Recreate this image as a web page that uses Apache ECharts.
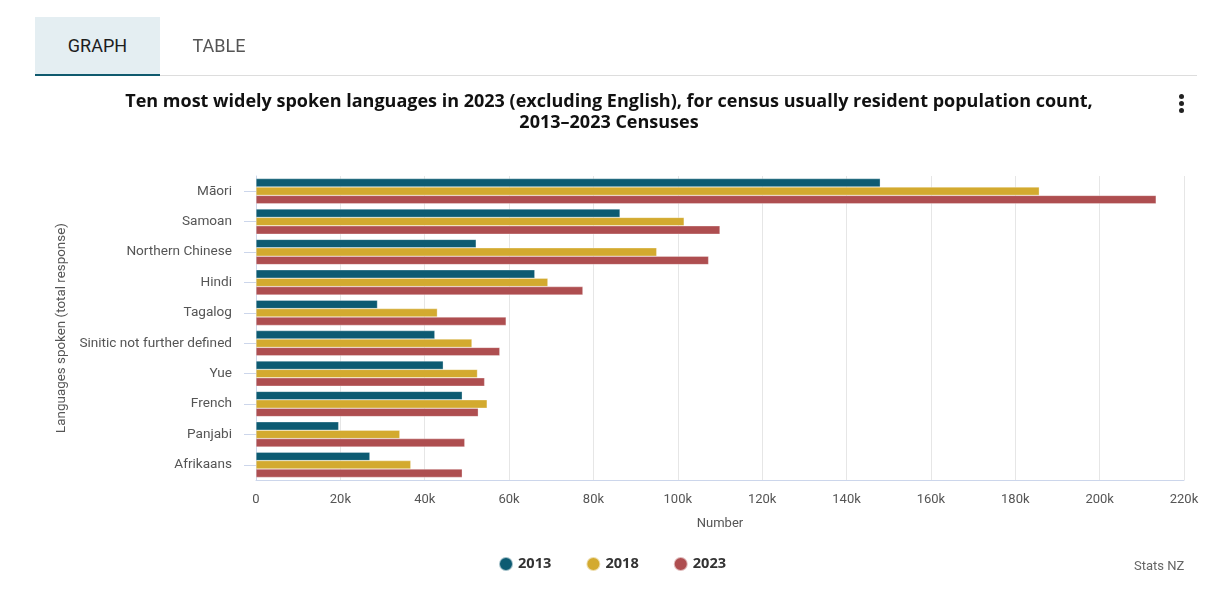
<!DOCTYPE html>
<html>
<head>
<meta charset="utf-8">
<script src="https://cdn.jsdelivr.net/npm/echarts@6/dist/echarts.min.js"></script>
<style>
  html,body{margin:0;padding:0;background:#fff;}
  #wrap{position:relative;width:1212px;height:600px;overflow:hidden;font-family:Roboto, "Open Sans", sans-serif;}
  #chart{position:absolute;left:0;top:0;width:1212px;height:600px;}
  .tab{position:absolute;top:17px;height:57px;line-height:58px;font-size:18px;text-align:center;}
  #tabG{left:35px;width:125px;background:#e4eef2;color:#1d1d1d;border-bottom:2px solid #0f5a6e;}
  #tabT{left:160px;width:118px;color:#555;}
  #rule{position:absolute;left:160px;top:75px;width:1037px;height:1px;background:#dddddd;}
  .dot{position:absolute;left:1179px;width:5px;height:5px;border-radius:50%;background:#222;}
</style>
</head>
<body>
<div id="wrap">
  <div id="chart"></div>
  <div class="tab" id="tabG">GRAPH</div>
  <div class="tab" id="tabT">TABLE</div>
  <div id="rule"></div>
  <div class="dot" style="top:94px"></div>
  <div class="dot" style="top:101px"></div>
  <div class="dot" style="top:108px"></div>
</div>
<script>
const categories = ["Māori","Samoan","Northern Chinese","Hindi","Tagalog","Sinitic not further defined","Yue","French","Panjabi","Afrikaans"];
const years = ["2013","2018","2023"];
const values2013 = [148000, 86300, 52200, 66100, 28800, 42400, 44400, 48900, 19600, 27000];
const values2018 = [185700, 101500, 95000, 69200, 43000, 51200, 52500, 54800, 34100, 36700];
const values2023 = [213400, 110000, 107300, 77500, 59300, 57800, 54200, 52700, 49500, 48900];
const xTicks = [0, 20000, 40000, 60000, 80000, 100000, 120000, 140000, 160000, 180000, 200000, 220000];
const colors = ["#0d5b72", "#d3aa2f", "#ae4e50"];

const chart = echarts.init(document.getElementById('chart'), null, {renderer:'canvas'});
const seriesData = [values2013, values2018, values2023];
chart.setOption({
  animation:false,
  textStyle:{fontFamily:'Roboto, "Open Sans", sans-serif'},
  title:{
    text:'Ten most widely spoken languages in 2023 (excluding English), for census usually resident population count,\n2013–2023 Censuses',
    left:604, top:86, textAlign:'center',
    textStyle:{fontSize:18, fontWeight:'bold', color:'#111', lineHeight:21, fontFamily:'"Open Sans", sans-serif'}
  },
  legend:{
    data:years, left:493, top:551, itemWidth:14, itemHeight:14, icon:'circle', itemGap:34,
    textStyle:{fontSize:14.6, fontWeight:'bold', color:'#333', fontFamily:'"Open Sans", sans-serif'}
  },
  graphic:[{type:'text', left:1134, top:560, style:{text:'Stats NZ', fill:'#666', fontSize:13, fontFamily:'Roboto, sans-serif'}}],
  grid:{left:256, right:28, top:176, bottom:120},
  xAxis:{
    type:'value', min:0, max:220000, interval:20000,
    name:'Number', nameLocation:'middle', nameGap:37,
    nameTextStyle:{fontSize:13, color:'#555'},
    axisLine:{show:true, lineStyle:{color:'#ccd6eb'}},
    axisTick:{show:false},
    axisLabel:{fontSize:13, color:'#555', margin:13, formatter:v => xTicks.includes(v) ? (v===0?'0':(v/1000)+'k') : ''},
    splitLine:{lineStyle:{color:'#e6e6e6'}}
  },
  yAxis:{
    type:'category', data:categories, inverse:true,
    name:'Languages spoken (total response)', nameLocation:'middle', nameGap:186, nameRotate:90,
    nameTextStyle:{fontSize:13.4, color:'#555'},
    axisLine:{show:true, lineStyle:{color:'#ccd6eb'}},
    axisTick:{show:true, alignWithLabel:true, length:12, lineStyle:{color:'#ccd6eb'}},
    axisLabel:{fontSize:13.6, color:'#555', margin:24}
  },
  series: years.map((y,i)=>({
    name:y, type:'bar', data:seriesData[i], barGap:'0%', barCategoryGap:'17%',
    itemStyle:{color:colors[i], borderColor:'rgba(255,255,255,0.6)', borderWidth:0.5}
  }))
});
</script>
</body>
</html>
